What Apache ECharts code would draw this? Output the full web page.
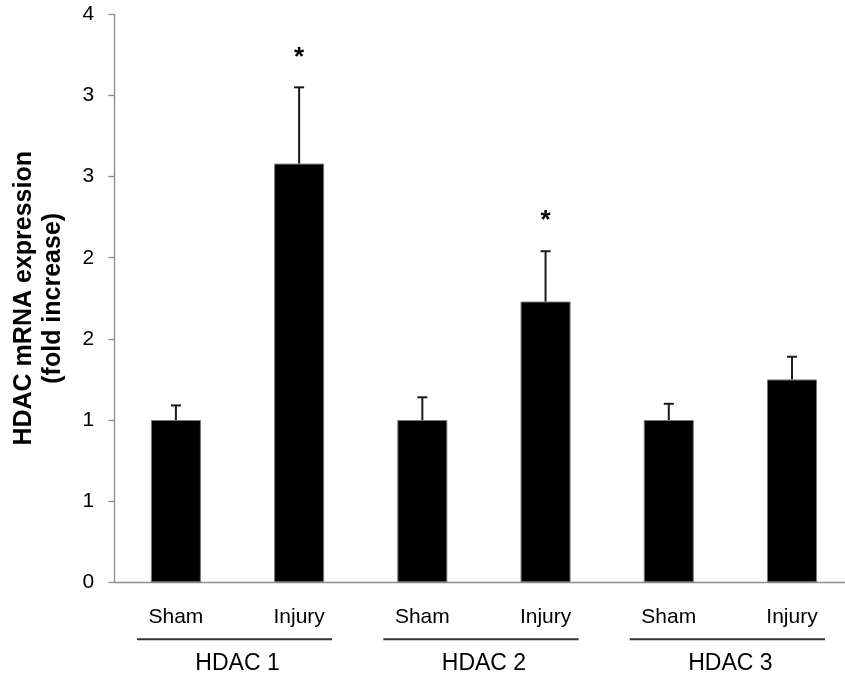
<!DOCTYPE html>
<html>
<head>
<meta charset="utf-8">
<script src="https://cdn.jsdelivr.net/npm/echarts@6/dist/echarts.min.js"></script>
<style>html,body{margin:0;padding:0;background:#fff;}#c{width:845px;height:683px;}</style>
</head>
<body>
<div id="c"></div>
<script>
var categories = ['Sham', 'Injury', 'Sham', 'Injury', 'Sham', 'Injury'];
var groups = ['HDAC 1', 'HDAC 2', 'HDAC 3'];
var means = [1.00, 2.58, 1.00, 1.73, 1.00, 1.25];
var errors = [0.09, 0.47, 0.14, 0.31, 0.10, 0.14];
var significance = ['', '*', '', '*', '', ''];
var yTickLabels = ['0', '1', '1', '2', '2', '3', '3', '4'];

var FONT = '"Liberation Sans", Arial, sans-serif';
var chart = echarts.init(document.getElementById('c'));

var errData = means.map(function (m, i) { return [i, m, errors[i], significance[i]]; });
var groupData = groups.map(function (g, i) { return [i * 2, i * 2 + 1]; });

chart.setOption({
  animation: false,
  grid: { left: 114.3, right: -8.6, top: 14.3, bottom: 100.7, containLabel: false, outerBoundsMode: 'none' },
  xAxis: [{
    type: 'category',
    data: categories,
    axisLine: { lineStyle: { color: '#8c8c8c', width: 1.3 } },
    axisTick: { length: 6, lineStyle: { color: '#8c8c8c', width: 1.3 } },
    axisLabel: { color: '#000', fontFamily: FONT, fontSize: 21, margin: 24, interval: 0 }
  }, {
    type: 'category',
    data: groups,
    position: 'bottom',
    offset: 60,
    axisLine: { show: false },
    axisTick: { show: false },
    axisLabel: { color: '#000', fontFamily: FONT, fontSize: 23, margin: 10, interval: 0 }
  }],
  yAxis: {
    type: 'value',
    min: 0, max: 3.5, interval: 0.5,
    splitLine: { show: false },
    axisLine: { show: true, lineStyle: { color: '#8c8c8c', width: 1.3 } },
    axisTick: { show: true, length: 6, lineStyle: { color: '#8c8c8c', width: 1.3 } },
    axisLabel: {
      color: '#000', fontFamily: FONT, fontSize: 21, margin: 20,
      formatter: function (v) { return yTickLabels[Math.round(v / 0.5)]; }
    },
    name: 'HDAC mRNA expression\n(fold increase)',
    nameLocation: 'middle',
    nameGap: 47,
    nameRotate: 90,
    nameTextStyle: { color: '#000', fontFamily: FONT, fontSize: 25, fontWeight: 'bold', lineHeight: 28.5 }
  },
  series: [{
    type: 'bar',
    data: means,
    barWidth: 50,
    itemStyle: { color: '#000', borderColor: '#777', borderWidth: 1 }
  }, {
    type: 'custom',
    data: errData,
    z: 5,
    renderItem: function (params, api) {
      var x = api.value(0), m = api.value(1), e = api.value(2);
      var p0 = api.coord([x, m]);
      var p1 = api.coord([x, m + e]);
      var children = [
        { type: 'line', shape: { x1: p0[0], y1: p0[1], x2: p1[0], y2: p1[1] }, style: { stroke: '#1a1a1a', lineWidth: 2 } },
        { type: 'line', shape: { x1: p1[0] - 5, y1: p1[1], x2: p1[0] + 5, y2: p1[1] }, style: { stroke: '#1a1a1a', lineWidth: 2 } }
      ];
      var s = errData[params.dataIndex][3];
      if (s) {
        children.push({ type: 'text', style: { text: s, x: p1[0], y: p1[1] - 30, align: 'center', verticalAlign: 'middle', fontSize: 26, fontFamily: FONT, fontWeight: 'bold', fill: '#000' } });
      }
      return { type: 'group', children: children };
    }
  }, {
    type: 'custom',
    data: groupData,
    clip: false,
    silent: true,
    renderItem: function (params, api) {
      var a = api.coord([api.value(0), 0]);
      var b = api.coord([api.value(1), 0]);
      var y = a[1] + 57;
      return { type: 'line', shape: { x1: a[0] - 39, y1: y, x2: b[0] + 33, y2: y }, style: { stroke: '#333', lineWidth: 2 } };
    }
  }]
});
</script>
</body>
</html>
